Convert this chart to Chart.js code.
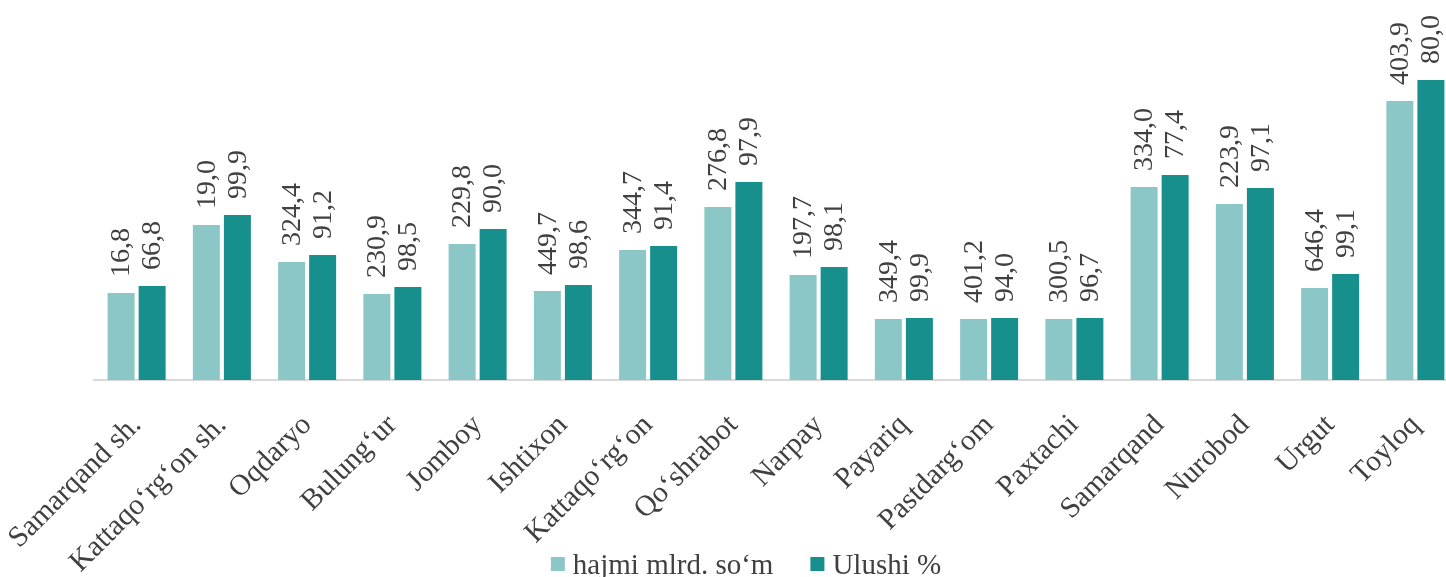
<!DOCTYPE html>
<html lang="uz">
<head>
    <meta charset="UTF-8">
    <title>Tumanlar kesimida</title>
    <script src="https://cdn.jsdelivr.net/npm/chart.js"></script>
    <style>
        html, body {
            margin: 0;
            padding: 0;
            background: #ffffff;
            overflow: hidden;
        }
        #chart {
            display: block;
        }
    </style>
</head>
<body>
    <canvas id="chart" width="1460" height="590"></canvas>

    <script>
        // Categories (districts)
        const districts = ['Samarqand sh.', 'Kattaqo\u2018rg\u2018on sh.', 'Oqdaryo', 'Bulung\u2018ur', 'Jomboy', 'Ishtixon',
            'Kattaqo\u2018rg\u2018on', 'Qo\u2018shrabot', 'Narpay', 'Payariq', 'Pastdarg\u2018om', 'Paxtachi',
            'Samarqand', 'Nurobod', 'Urgut', 'Toyloq'];

        // Bar heights
        const hajmiBars = [87, 155, 118, 86, 136, 89, 130, 173, 105, 61, 61, 61, 193, 176, 92, 279];
        const ulushiBars = [94, 165, 125, 93, 151, 95, 134, 198, 113, 62, 62, 62, 205, 192, 106, 300];

        // Data label texts printed above the bars
        const hajmiLabels = ['16,8', '19,0', '324,4', '230,9', '229,8', '449,7', '344,7', '276,8', '197,7', '349,4',
            '401,2', '300,5', '334,0', '223,9', '646,4', '403,9'];
        const ulushiLabels = ['66,8', '99,9', '91,2', '98,5', '90,0', '98,6', '91,4', '97,9', '98,1', '99,9',
            '94,0', '96,7', '77,4', '97,1', '99,1', '80,0'];

        const seriesNames = ['hajmi mlrd. so\u2018m', 'Ulushi %'];

        const textColor = '#404040';
        const fontFamily = '"Liberation Serif", "Times New Roman", serif';

        // Rotated value labels above each bar
        const valueLabels = {
            id: 'valueLabels',
            afterDatasetsDraw(chart) {
                const ctx = chart.ctx;
                ctx.save();
                ctx.font = '28px ' + fontFamily;
                ctx.fillStyle = textColor;
                ctx.textAlign = 'left';
                ctx.textBaseline = 'middle';
                chart.data.datasets.forEach((ds, i) => {
                    const meta = chart.getDatasetMeta(i);
                    meta.data.forEach((bar, j) => {
                        ctx.save();
                        ctx.translate(bar.x + 1, bar.y - 16);
                        ctx.rotate(-Math.PI / 2);
                        ctx.fillText(ds.valueLabels[j], 0, 0);
                        ctx.restore();
                    });
                });
                ctx.restore();
            }
        };

        // Legend drawn under the axis labels
        const bottomLegend = {
            id: 'bottomLegend',
            afterDraw(chart) {
                const ctx = chart.ctx;
                ctx.save();
                ctx.font = '29px ' + fontFamily;
                ctx.textBaseline = 'middle';
                ctx.textAlign = 'left';
                const box = 14, gapBox = 8, gapItem = 37;
                const widths = chart.data.datasets.map(ds => ctx.measureText(ds.label).width);
                let total = 0;
                widths.forEach((w, i) => { total += box + gapBox + w + (i > 0 ? gapItem : 0); });
                let x = 746 - total / 2;
                const cy = 564;
                chart.data.datasets.forEach((ds, i) => {
                    ctx.fillStyle = ds.backgroundColor;
                    ctx.fillRect(x, cy - box / 2, box, box);
                    ctx.fillStyle = textColor;
                    ctx.fillText(ds.label, x + box + gapBox, cy + 2);
                    x += box + gapBox + widths[i] + gapItem;
                });
                ctx.restore();
            }
        };

        new Chart(document.getElementById('chart'), {
            type: 'bar',
            data: {
                labels: districts,
                datasets: [
                    {
                        label: seriesNames[0],
                        data: hajmiBars,
                        valueLabels: hajmiLabels,
                        backgroundColor: '#8bc7c6',
                        categoryPercentage: 0.728,
                        barPercentage: 0.87
                    },
                    {
                        label: seriesNames[1],
                        data: ulushiBars,
                        valueLabels: ulushiLabels,
                        backgroundColor: '#168f8d',
                        categoryPercentage: 0.728,
                        barPercentage: 0.87
                    }
                ]
            },
            options: {
                responsive: false,
                animation: false,
                layout: {
                    padding: { left: 94, right: 2, top: 0, bottom: 0 }
                },
                plugins: {
                    legend: { display: false },
                    tooltip: { enabled: false }
                },
                scales: {
                    x: {
                        grid: { display: false, drawTicks: false },
                        border: { display: true, color: '#d9d9d9', width: 2 },
                        ticks: {
                            color: textColor,
                            font: { family: fontFamily, size: 29.5 },
                            minRotation: 45,
                            maxRotation: 45,
                            autoSkip: false,
                            padding: 28
                        },
                        afterFit(scale) {
                            // keep the plot area fixed, labels may run into the margin
                            scale.height = 210;
                            scale.paddingLeft = 0;
                            scale.paddingRight = 0;
                        }
                    },
                    y: {
                        display: false,
                        min: 0,
                        max: 380
                    }
                }
            },
            plugins: [valueLabels, bottomLegend]
        });
    </script>
</body>
</html>
